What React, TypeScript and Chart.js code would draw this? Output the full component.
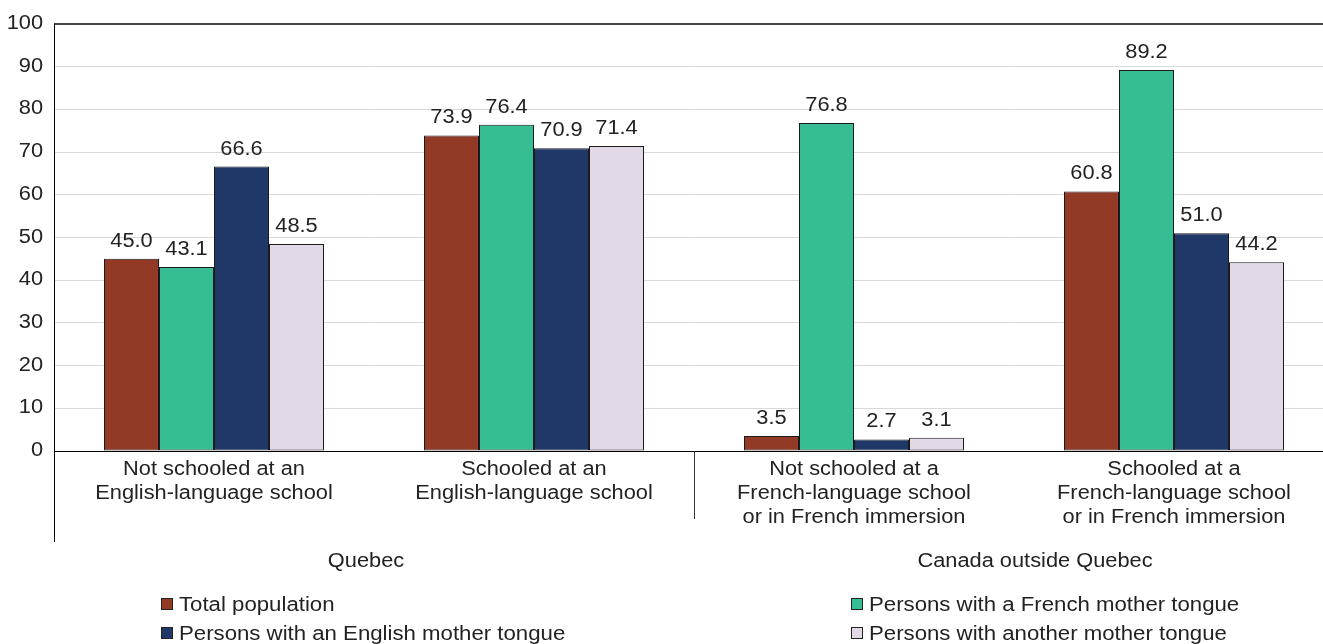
import React, { useEffect, useRef } from "react";
import { Chart, registerables } from "chart.js";

Chart.register(...registerables);

const categories: string[][] = [
  ["Not schooled at an", "English-language school"],
  ["Schooled at an", "English-language school"],
  ["Not schooled at a", "French-language school", "or in French immersion"],
  ["Schooled at a", "French-language school", "or in French immersion"],
];
const groupLabels = ["Quebec", "Canada outside Quebec"];
const seriesNames = [
  "Total population",
  "Persons with a French mother tongue",
  "Persons with an English mother tongue",
  "Persons with another mother tongue",
];
const totalPopulation = [45.0, 73.9, 3.5, 60.8];
const frenchMotherTongue = [43.1, 76.4, 76.8, 89.2];
const englishMotherTongue = [66.6, 70.9, 2.7, 51.0];
const otherMotherTongue = [48.5, 71.4, 3.1, 44.2];
const seriesColors = ["#933A27", "#36BD93", "#1F3868", "#E2D9E6"];
const yTicks = [0, 10, 20, 30, 40, 50, 60, 70, 80, 90, 100];

const FONT = '20px "Liberation Sans", Arial, Helvetica, sans-serif';
const TEXT = "#222222";
const SX = 1.09;

function txt(ctx: CanvasRenderingContext2D, s: string, x: number, y: number, align: CanvasTextAlign, sx = SX) {
  ctx.save();
  ctx.translate(x, y);
  ctx.scale(sx, 1);
  ctx.font = FONT;
  ctx.fillStyle = TEXT;
  ctx.textAlign = align;
  ctx.textBaseline = "alphabetic";
  ctx.fillText(s, 0, 0);
  ctx.restore();
}

const textPlugin = {
  id: "customText",
  afterDraw(chart: any) {
    const ctx: CanvasRenderingContext2D = chart.ctx;
    const xs = chart.scales.x;
    const ys = chart.scales.y;
    const area = chart.chartArea;
    // top frame line
    ctx.save();
    ctx.strokeStyle = "#444";
    ctx.lineWidth = 2;
    ctx.beginPath();
    ctx.moveTo(area.left, ys.getPixelForValue(100));
    ctx.lineTo(chart.width, ys.getPixelForValue(100));
    ctx.stroke();
    ctx.restore();
    // y tick labels
    yTicks.forEach((v) => {
      txt(ctx, String(v), area.left - 11, ys.getPixelForValue(v) + 5, "right");
    });
    // axis extension and divider
    ctx.save();
    ctx.strokeStyle = "#000";
    ctx.lineWidth = 1;
    const lx = Math.round(area.left - 0.5) + 0.5;
    ctx.beginPath();
    ctx.moveTo(lx, area.top);
    ctx.lineTo(lx, area.bottom + 91);
    ctx.stroke();
    ctx.strokeStyle = "#333";
    const dx = Math.round(xs.getPixelForValue(1.5)) + 0.5;
    ctx.beginPath();
    ctx.moveTo(dx, area.bottom);
    ctx.lineTo(dx, area.bottom + 68);
    ctx.stroke();
    ctx.restore();
    // category labels
    categories.forEach((lines, i) => {
      const cx = xs.getPixelForValue(i);
      lines.forEach((line, j) => {
        txt(ctx, line, cx, area.bottom + 24 + j * 24, "center");
      });
    });
    // group labels
    txt(ctx, groupLabels[0], xs.getPixelForValue(0.5) - 8, area.bottom + 116, "center");
    txt(ctx, groupLabels[1], xs.getPixelForValue(2.5) + 21, area.bottom + 116, "center");
    // data labels
    chart.data.datasets.forEach((ds: any, di: number) => {
      const meta = chart.getDatasetMeta(di);
      meta.data.forEach((bar: any, i: number) => {
        txt(ctx, Number(ds.data[i]).toFixed(1), bar.x, bar.y - 12, "center");
      });
    });
    // legend
    const legendPos = [
      { x: 161, y: 611 },
      { x: 851, y: 611 },
      { x: 161, y: 640 },
      { x: 851, y: 640 },
    ];
    chart.data.datasets.forEach((ds: any, di: number) => {
      const p = legendPos[di];
      ctx.save();
      ctx.fillStyle = ds.backgroundColor;
      ctx.fillRect(p.x, p.y - 13, 12, 12);
      ctx.strokeStyle = "#222";
      ctx.lineWidth = 1;
      ctx.strokeRect(p.x + 0.5, p.y - 12.5, 11, 11);
      ctx.restore();
      txt(ctx, ds.label, p.x + 18, p.y, "left", 1.11);
    });
  },
};

export default function App() {
  const ref = useRef<HTMLCanvasElement>(null);
  useEffect(() => {
    if (!ref.current) return;
    const seriesData = [totalPopulation, frenchMotherTongue, englishMotherTongue, otherMotherTongue];
    const chart = new Chart(ref.current, {
      type: "bar",
      data: {
        labels: categories.map((c) => c.join(" ")),
        datasets: seriesData.map((d, i) => ({
          label: seriesNames[i],
          data: d,
          backgroundColor: seriesColors[i],
          borderColor: "#1a1a1a",
          borderWidth: 1,
          borderSkipped: false,
          categoryPercentage: 0.6875,
          barPercentage: 1,
        })),
      },
      options: {
        responsive: false,
        animation: false,
        layout: { padding: { top: 24, right: 6, left: 0, bottom: 0 } },
        plugins: { legend: { display: false }, tooltip: { enabled: false } },
        scales: {
          x: {
            grid: { display: false, drawTicks: false },
            border: { display: true, color: "#000", width: 1 },
            ticks: { display: false },
            afterFit: (s: any) => {
              s.height = 193;
            },
          },
          y: {
            min: 0,
            max: 100,
            ticks: { display: false, stepSize: 10 },
            border: { display: true, color: "#000", width: 1 },
            grid: {
              drawTicks: false,
              color: (c: any) =>
                c.tick && c.tick.value === 0 ? "#000" : c.tick && c.tick.value === 100 ? "#444" : "#d9d9d9",
              lineWidth: (c: any) => (c.tick && c.tick.value === 100 ? 2 : 1),
            },
            afterFit: (s: any) => {
              s.width = 54;
            },
          },
        },
      },
      plugins: [textPlugin],
    });
    return () => chart.destroy();
  }, []);
  return (
    <div style={{ position: "fixed", left: 0, top: 0, width: 1340, height: 644, background: "#fff" }}>
      <canvas ref={ref} width={1340} height={644} style={{ display: "block" }} />
    </div>
  );
}
